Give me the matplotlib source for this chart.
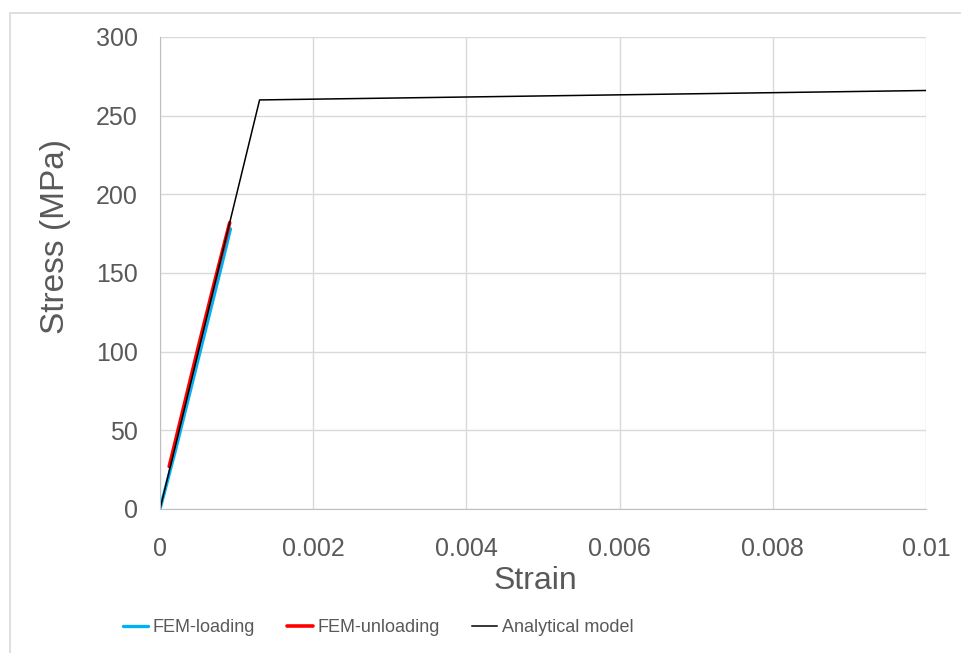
#### Stress-strain curve: FEM vs analytical ####
import numpy as np
import matplotlib.pyplot as plt
from matplotlib.patches import Rectangle

plt.rcParams['font.family'] = ['Liberation Sans', 'DejaVu Sans']

# data
strain_load = [0, 0.0002, 0.0004, 0.0006, 0.0008, 0.00092]
stress_load = [0, 37, 76, 115, 154, 178]

strain_unload = [0.00012, 0.0003, 0.0005, 0.0007, 0.00091]
stress_unload = [27, 63, 103, 142, 182]

strain_model = [0, 0.0013, 0.01]
stress_model = [0, 260, 266]

x_ticks = [0, 0.002, 0.004, 0.006, 0.008, 0.01]
x_tick_labels = ['0', '0.002', '0.004', '0.006', '0.008', '0.01']
y_ticks = [0, 50, 100, 150, 200, 250, 300]

text_color = '#595959'
grid_color = '#d9d9d9'

fig = plt.figure(figsize=(9.61, 6.53), dpi=100)
ax = fig.add_axes([160 / 961, 1 - 509 / 653, 766 / 961, 472 / 653])

# outer chart border (cropped at right and bottom like the original)
fig.patches.append(Rectangle((10 / 961, -0.1), 2, 1 - 13 / 653 + 0.1,
                             transform=fig.transFigure, fill=False,
                             edgecolor=grid_color, linewidth=1.2))

ax.plot(strain_load, stress_load, color='#00B0F0', lw=2.4, label='FEM-loading',
        solid_capstyle='round')
ax.plot(strain_unload, stress_unload, color='#FF0000', lw=2.6, label='FEM-unloading',
        solid_capstyle='round')
ax.plot(strain_model, stress_model, color='black', lw=1.1, label='Analytical model')

ax.set_xlim(0, 0.01)
ax.set_ylim(0, 300)
ax.set_xticks(x_ticks)
ax.set_xticklabels(x_tick_labels)
ax.set_yticks(y_ticks)
ax.grid(True, color=grid_color, lw=1)
ax.set_axisbelow(True)
for s in ax.spines.values():
    s.set_visible(False)
ax.spines['left'].set_visible(True)
ax.spines['bottom'].set_visible(True)
ax.spines['left'].set_color('#bfbfbf')
ax.spines['bottom'].set_color('#bfbfbf')

ax.tick_params(axis='both', length=0, labelsize=18, labelcolor=text_color)
ax.tick_params(axis='x', pad=20)
ax.tick_params(axis='y', pad=16)

ax.set_xlabel('Strain', fontsize=23, color=text_color)
ax.xaxis.set_label_coords(0.49, -0.12)
ax.set_ylabel('Stress (MPa)', fontsize=24, color=text_color, va='center')
ax.yaxis.set_label_coords(-0.137, 0.578)

leg = fig.legend(loc='center', bbox_to_anchor=(378 / 961, 1 - 628 / 653), ncol=3,
                 frameon=False, fontsize=13, handlelength=1.4, handletextpad=0.25,
                 columnspacing=1.8, labelcolor=text_color)

plt.savefig('out.png', dpi=100)
